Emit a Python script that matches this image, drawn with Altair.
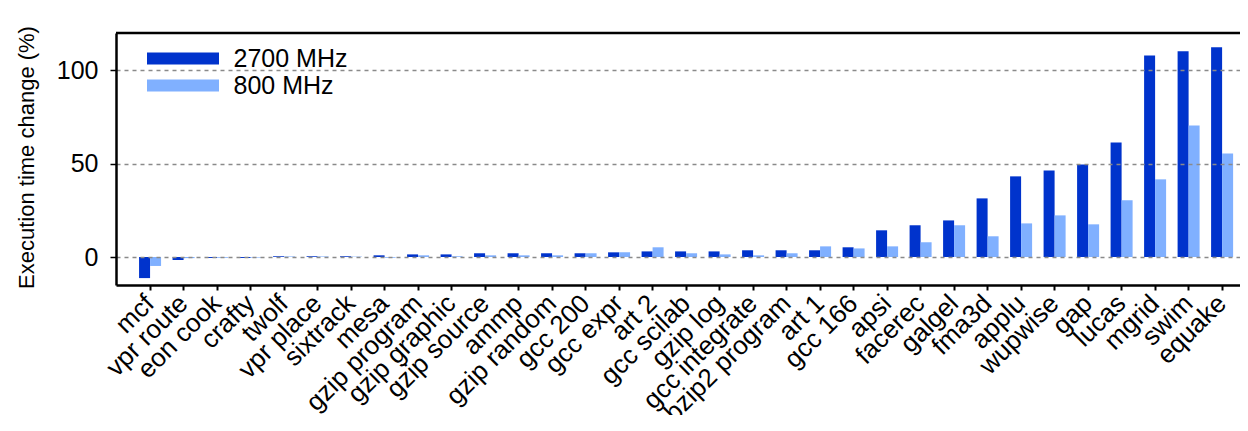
import altair as alt
import pandas as pd

benchmarks = [
    "mcf", "vpr route", "eon cook", "crafty", "twolf", "vpr place", "sixtrack",
    "mesa", "gzip program", "gzip graphic", "gzip source", "ammp", "gzip random",
    "gcc 200", "gcc expr", "art 2", "gcc scilab", "gzip log", "gcc integrate",
    "bzip2 program", "art 1", "gcc 166", "apsi", "facerec", "galgel", "fma3d",
    "applu", "wupwise", "gap", "lucas", "mgrid", "swim", "equake",
]
mhz2700 = [
    -11.3, -1.6, -0.5, -0.5, 0.4, 0.4, 0.4,
    0.9, 1.4, 1.4, 2.0, 2.0, 2.0,
    2.0, 2.5, 3.0, 3.0, 3.0, 3.6,
    3.6, 3.6, 5.2, 14.3, 17.0, 19.6, 31.4,
    43.2, 46.4, 49.6, 61.4, 108.0, 110.2, 112.3,
]
mhz800 = [
    -4.8, -0.6, -0.4, -0.3, 0.3, 0.3, 0.2,
    -0.4, 0.9, 0.4, 0.9, 0.9, 0.9,
    2.0, 2.5, 5.2, 2.0, 1.4, 0.9,
    2.0, 5.7, 4.6, 5.7, 7.9, 17.0, 11.1,
    18.0, 22.3, 17.5, 30.4, 41.6, 70.5, 55.5,
]
series = ["2700 MHz", "800 MHz"]
colors = ["#0033cc", "#80b0ff"]
y_ticks = [0, 50, 100]
y_domain = [-15, 120]

rows = []
for b, v1, v2 in zip(benchmarks, mhz2700, mhz800):
    rows.append({"bench": b, "freq": series[0], "value": v1})
    rows.append({"bench": b, "freq": series[1], "value": v2})
df = pd.DataFrame(rows)

font = "Liberation Sans"

bars = alt.Chart(df).mark_bar().encode(
    x=alt.X(
        "bench:N",
        sort=benchmarks,
        title=None,
        scale=alt.Scale(paddingInner=0.343, paddingOuter=0.447, align=0.77),
        axis=alt.Axis(
            labelAngle=-45,
            labelAlign="right",
            labelBaseline="middle",
            labelFontSize=26,
            labelFont=font,
            labelColor="black",
            labelPadding=9,
            tickSize=5,
            tickWidth=2,
            tickColor="black",
            domainColor="black",
            domainWidth=2.5,
            labelOverlap=False,
        ),
    ),
    xOffset=alt.XOffset("freq:N", sort=series, scale=alt.Scale(paddingInner=0, paddingOuter=0)),
    y=alt.Y(
        "value:Q",
        scale=alt.Scale(domain=y_domain, nice=False, zero=False),
        title="Execution time change (%)",
        axis=alt.Axis(
            values=y_ticks,
            labelFontSize=25,
            labelFont=font,
            labelColor="black",
            labelPadding=12,
            tickSize=6,
            tickWidth=1.5,
            tickColor="black",
            domainColor="black",
            domainWidth=2.5,
            grid=True,
            gridDash=[4, 4],
            gridColor="#8a8a8a",
            gridWidth=1.3,
            titleFont=font,
            titleFontSize=22,
            titleFontWeight="normal",
            titleColor="black",
            titlePadding=18,
            titleY=124,
            zindex=1,
        ),
    ),
    color=alt.Color(
        "freq:N",
        sort=series,
        scale=alt.Scale(domain=series, range=colors),
        legend=alt.Legend(
            title=None,
            orient="none",
            legendX=54.5,
            legendY=13,
            padding=0,
            symbolType="M-6,-1L6,-1L6,1L-6,1Z",
            symbolSize=144,
            symbolStrokeWidth=0,
            symbolOpacity=1,
            labelFont=font,
            labelFontSize=25,
            labelColor="black",
            labelOffset=38,
            rowPadding=1,
        ),
    ),
)

top = alt.Chart(pd.DataFrame({"t": [0]})).mark_rule(color="black", strokeWidth=2.5).encode(
    y=alt.datum(y_domain[1])
)

chart = (
    alt.layer(bars, top)
    .properties(
        width=1124,
        height=252,
        autosize=alt.AutoSizeParams(type="none"),
        padding={"left": 108, "top": 25, "right": 0, "bottom": 130},
    )
    .configure_view(stroke=None)
    .configure(background="white")
)

chart.save("out.html", embed_options={"renderer": "svg", "actions": False})
